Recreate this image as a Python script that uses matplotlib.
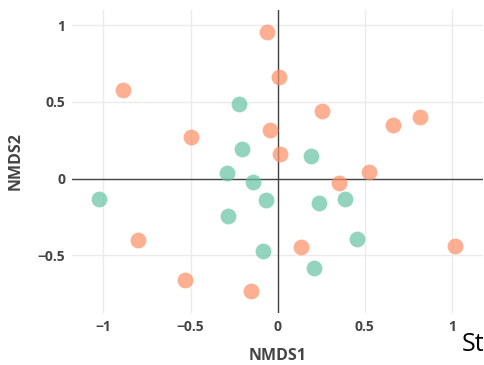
import matplotlib
matplotlib.use("Agg")
import matplotlib.pyplot as plt

# NMDS scores
green_x = [-0.222, -0.207, -0.289, 0.189, -0.142, -1.027, -0.287, -0.067, 0.237, 0.386, 0.453, -0.086, 0.208]
green_y = [0.483, 0.192, 0.034, 0.149, -0.023, -0.136, -0.244, -0.140, -0.158, -0.136, -0.396, -0.474, -0.583]

orange_x = [-0.886, -0.499, -0.063, 0.009, 0.252, 0.663, 0.816, -0.044, 0.015, 0.526, 0.354,
            -0.803, -0.532, -0.155, 0.132, 1.017]
orange_y = [0.577, 0.268, 0.952, 0.661, 0.440, 0.349, 0.401, 0.314, 0.158, 0.042, -0.027,
            -0.403, -0.661, -0.733, -0.444, -0.438]

x_ticks = [-1, -0.5, 0, 0.5, 1]
x_labels = ["\u22121", "\u22120.5", "0", "0.5", "1"]
y_ticks = [-0.5, 0, 0.5, 1]
y_labels = ["\u22120.5", "0", "0.5", "1"]

plt.rcParams['font.family'] = ['Open Sans', 'DejaVu Sans']

fig = plt.figure(figsize=(4.85, 3.65), dpi=100)
ax = fig.add_axes([0.1485, 0.1425, 0.8475, 0.83])
ax.set_axisbelow(True)

ax.scatter(green_x, green_y, s=130, color='#66c2a5', alpha=0.7, linewidths=0, zorder=3)
ax.scatter(orange_x, orange_y, s=130, color='#fc8d62', alpha=0.7, linewidths=0, zorder=3)

ax.set_xlim(-1.18, 1.178)
ax.set_ylim(-0.876, 1.098)

ax.set_xticks(x_ticks)
ax.set_xticklabels(x_labels)
ax.set_yticks(y_ticks)
ax.set_yticklabels(y_labels)
ax.grid(True, color='#ebebeb', lw=1)
ax.axhline(0, color='#444444', lw=1, zorder=2)
ax.axvline(0, color='#444444', lw=1, zorder=2)

for s in ax.spines.values():
    s.set_visible(False)
ax.tick_params(length=0, labelsize=10, labelcolor='#444444', pad=5)
for lab in ax.get_xticklabels() + ax.get_yticklabels():
    lab.set_fontweight('bold')

ax.set_xlabel('NMDS1', fontsize=11.5, fontweight='bold', color='#444444', labelpad=10)
ax.set_ylabel('NMDS2', fontsize=11.5, fontweight='bold', color='#444444', labelpad=10)

# legend title, cut off at the right edge in the original
fig.text(462 / 485, 1 - 351 / 365, 'St', fontsize=18, color='black')

fig.savefig('out.png', dpi=100)
